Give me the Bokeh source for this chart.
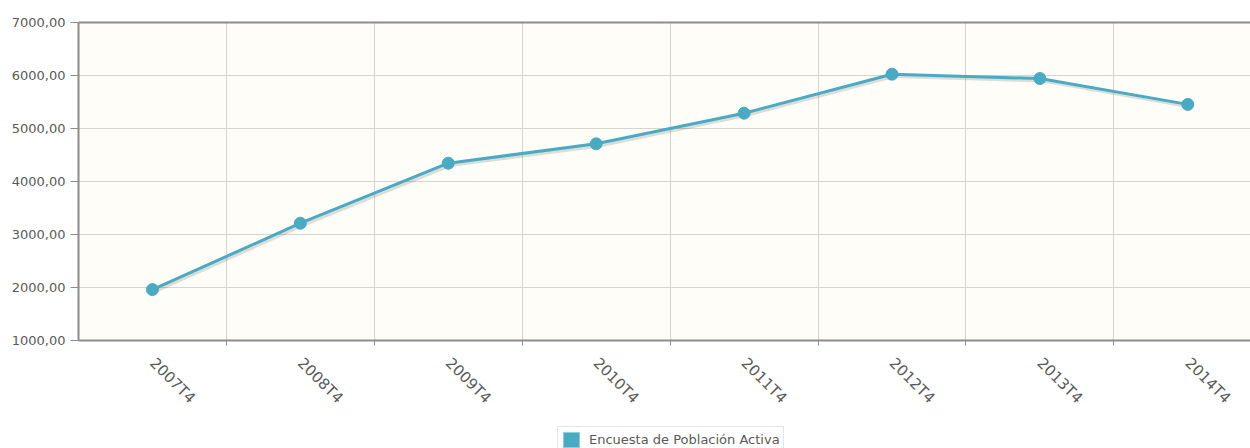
import math
from bokeh.plotting import figure
from bokeh.layouts import column
from bokeh.models import (ColumnDataSource, FixedTicker, LinearAxis, Legend,
                          LegendItem, Range1d)
from bokeh.transform import dodge
from bokeh.embed import file_html
from bokeh.resources import INLINE

categories = ["2007T4", "2008T4", "2009T4", "2010T4", "2011T4", "2012T4", "2013T4", "2014T4"]
values = [1960, 3213, 4345, 4711, 5289, 6025, 5943, 5455]
series_name = "Encuesta de Población Activa"
y_ticks = [1000, 2000, 3000, 4000, 5000, 6000, 7000]
y_tick_labels = ["1000,00", "2000,00", "3000,00", "4000,00", "5000,00", "6000,00", "7000,00"]

positions = list(range(len(categories)))
boundaries = [i + 0.5 for i in positions[:-1]]

src = ColumnDataSource(dict(x=positions, y=values))

FONT = "DejaVu Sans"
LINE = "#49aac4"
AXIS = "#8c8c8c"
GRID = "#d6d4cc"
TEXT = "#5a5a5a"

p = figure(width=1250, height=418, output_backend="svg", toolbar_location=None,
           x_range=Range1d(-0.5, 7.424), y_range=Range1d(1000, 7000),
           min_border_left=78, min_border_top=22, min_border_bottom=78,
           min_border_right=0)
p.background_fill_color = "#fffdf7"
p.border_fill_color = "white"
p.outline_line_color = None

# shadow of the line
p.line(dodge("x", 0.012, range=p.x_range), dodge("y", -40, range=p.y_range),
       source=src, line_color="rgba(0,0,0,0.13)", line_width=3.5)
p.line("x", "y", source=src, line_color=LINE, line_width=3)
p.scatter("x", "y", source=src, size=12, fill_color=LINE, line_color=LINE)

# x axis
xa = p.xaxis[0]
xa.ticker = FixedTicker(ticks=positions, minor_ticks=boundaries)
xa.major_label_overrides = {i: c for i, c in zip(positions, categories)}
xa.major_label_orientation = -math.pi / 4
xa.major_tick_out = 0
xa.major_tick_in = 0
xa.minor_tick_out = 5
xa.minor_tick_in = 0
xa.minor_tick_line_color = AXIS
xa.axis_line_color = AXIS
xa.axis_line_width = 2
xa.major_label_text_font = FONT
xa.major_label_text_font_size = "15px"
xa.major_label_text_color = TEXT
xa.major_label_standoff = 15

# y axis
ya = p.yaxis[0]
ya.ticker = FixedTicker(ticks=y_ticks, minor_ticks=[])
ya.major_label_overrides = {t: l for t, l in zip(y_ticks, y_tick_labels)}
ya.major_tick_out = 8
ya.major_tick_in = 0
ya.major_tick_line_color = AXIS
ya.axis_line_color = AXIS
ya.axis_line_width = 2
ya.major_label_text_font = FONT
ya.major_label_text_font_size = "13px"
ya.major_label_text_color = TEXT
ya.major_label_standoff = 5

# top border
top = LinearAxis(ticker=FixedTicker(ticks=[]), major_label_text_font_size="0px",
                 axis_line_color=AXIS, axis_line_width=2,
                 major_tick_line_color=None, minor_tick_line_color=None)
p.add_layout(top, "above")

p.xgrid.ticker = FixedTicker(ticks=boundaries)
p.xgrid.grid_line_color = GRID
p.ygrid.ticker = FixedTicker(ticks=y_ticks)
p.ygrid.grid_line_color = GRID

# legend strip (its frame is aligned with the main frame by the column layout)
lf = figure(width=1250, height=30, output_backend="svg", toolbar_location=None,
            min_border=0, x_range=Range1d(0, 1), y_range=Range1d(0, 1),
            x_axis_location=None, y_axis_location=None)
lf.grid.visible = False
lf.outline_line_color = None
lf.background_fill_color = "white"
lf.border_fill_color = "white"
# swatch renderer kept outside the visible range; only its legend glyph shows
swatch = lf.quad(left=[5], right=[6], top=[6], bottom=[5], fill_color=LINE,
                 line_color="#8fcfe0", line_width=1)
legend = Legend(items=[LegendItem(label=series_name, renderers=[swatch])],
                location=(479, -5), orientation="horizontal",
                label_text_font=FONT, label_text_font_size="13px",
                label_text_color=TEXT, glyph_width=20, glyph_height=19,
                label_height=19, padding=3, margin=0, label_standoff=8,
                border_line_color="#cccccc", border_line_width=1,
                background_fill_color="white", background_fill_alpha=1)
lf.add_layout(legend, "center")

layout = column(p, lf, spacing=0)
open("out.html", "w").write(file_html(layout, INLINE))
